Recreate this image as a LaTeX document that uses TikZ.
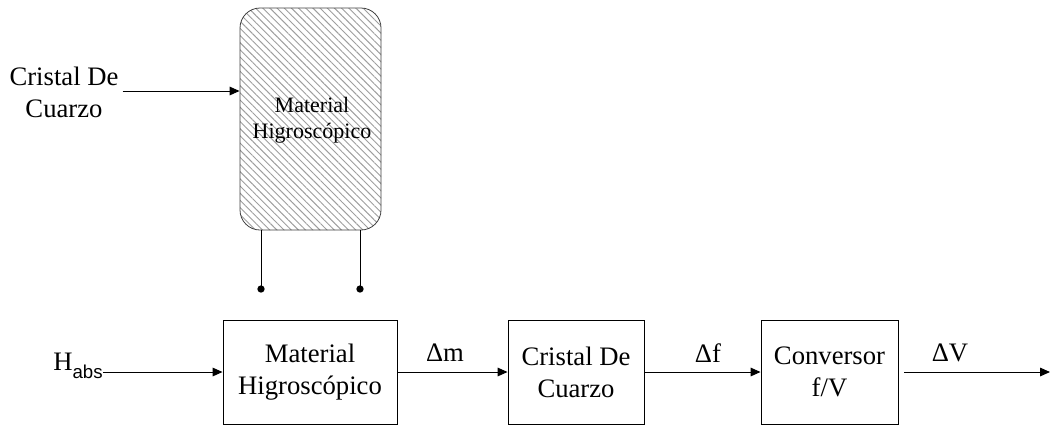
\documentclass[tikz,border=0pt]{standalone}
\usepackage{fontspec}
\setmainfont{Liberation Serif}
\newfontfamily\habsfont{Liberation Sans}
\usetikzlibrary{arrows.meta,patterns.meta}

\begin{document}
\begin{tikzpicture}[x=0.75pt,y=0.75pt,yscale=-1,xscale=1,
  blokk/.style={draw,line width=0.7pt,align=center,inner sep=0pt,
    font=\fontsize{20}{24}\selectfont},
  felirat/.style={inner sep=0pt,font=\fontsize{20}{24}\selectfont},
  nyil/.style={line width=0.75pt,-{Triangle[length=7.5pt,width=6.5pt]}},
  pont/.style={circle,fill,inner sep=0pt,minimum size=5.5pt}]

\useasboundingbox (0,0) rectangle (1052,426);

%=====Szenzor ábrázolás=======
\node (szenzor) at (310.5,119) [draw=black!75,line width=0.6pt,rounded corners=15pt,
  minimum width=105.75pt,minimum height=166.5pt,
  pattern={Lines[angle=-45,distance=3.8pt,line width=0.7pt]},pattern color=black!38] {};
\node (szenzorfelirat) at (312,120) [align=center,inner sep=0pt,
  font=\fontsize{16.5}{19.5}\selectfont] {Material\\Higroscópico};

\node (kristaly) at (64,92) [felirat,align=center] {Cristal De\\Cuarzo};
\draw [nyil] (kristaly.east) ++(3pt,-0.75pt) coordinate (kristalyki) -- (kristalyki -| szenzor.west);

\coordinate (labbal) at (261,289);
\coordinate (labjobb) at (360,289);
\draw [line width=0.75pt] (labbal |- szenzor.south) -- (labbal);
\draw [line width=0.75pt] (labjobb |- szenzor.south) -- (labjobb);
\node [pont] (pontbal) at (labbal) {};
\node [pont] (pontjobb) at (labjobb) {};

%=====Blokkvázlat=======
\node (anyag) at (310,372) [blokk,minimum width=130.5pt,minimum height=78pt] {Material\\Higroscópico};
\node (kvarc) at (576,372) [blokk,minimum width=102pt,minimum height=78pt] {Cristal De\\Cuarzo};
\node (konverter) at (829.5,372) [blokk,minimum width=102.75pt,minimum height=78pt] {Conversor\\f/V};

\node (habs) at (78,366) [felirat] {H\raisebox{-6pt}{\fontsize{14}{14}\habsfont abs}};
\coordinate (kimenet) at (1050,372);

\draw [nyil] (habs.east |- anyag.west) -- (anyag.west);
\draw [nyil] (anyag.east) -- (kvarc.west);
\draw [nyil] (kvarc.east) -- (konverter.west);
\draw [nyil] ([xshift=4.5pt]konverter.east) -- (kimenet);

%======Felirat=========
\node (dm) at (445,353) [felirat] {Δm};
\node (df) at (708,353) [felirat] {Δf};
\node (dv) at (950,353) [felirat] {ΔV};

\end{tikzpicture}
\end{document}
